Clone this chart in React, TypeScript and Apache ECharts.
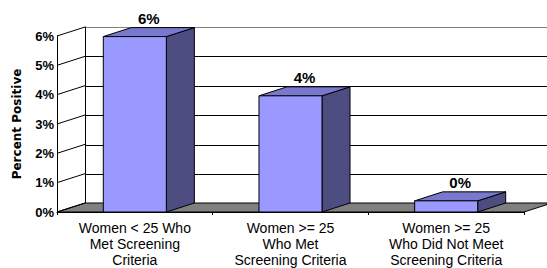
import React, { useEffect, useRef } from "react";
import * as echarts from "echarts";

const categories = [
  "Women < 25 Who\nMet Screening\nCriteria",
  "Women >= 25\nWho Met\nScreening Criteria",
  "Women >= 25\nWho Did Not Meet\nScreening Criteria",
];
const percentPositive = [5.98, 3.96, 0.38];
const yTicks = [0, 1, 2, 3, 4, 5, 6];

const DX = 28;
const DY = -9;
const FRONT = "#9999FF";
const TOP = "#7878CC";
const SIDE = "#4D4D82";
const FONT = "'Liberation Sans', Arial, sans-serif";

export default function App() {
  const ref = useRef<HTMLDivElement>(null);
  useEffect(() => {
    document.body.style.margin = "0";
    const chart = echarts.init(ref.current!, null, { renderer: "svg" });
    const option: any = {
      animation: false,
      backgroundColor: "#fff",
      grid: [
        { left: 57, top: 36, width: 467, height: 177 },
        { left: 57 + DX, top: 36 + DY, width: 467, height: 177 },
      ],
      xAxis: [
        {
          gridIndex: 0,
          type: "category",
          data: categories,
          axisLine: { show: true, lineStyle: { color: "#000", width: 1 } },
          axisTick: { show: true, length: 3, lineStyle: { color: "#000" } },
          axisLabel: {
            color: "#000",
            fontFamily: FONT,
            fontSize: 14,
            lineHeight: 16,
            margin: 8,
            interval: 0,
          },
          z: 5,
        },
        {
          gridIndex: 1,
          type: "category",
          data: categories,
          show: false,
        },
      ],
      yAxis: [
        {
          gridIndex: 0,
          type: "value",
          min: 0,
          max: 6,
          interval: 1,
          name: "Percent Positive",
          nameLocation: "middle",
          nameGap: 34,
          nameTextStyle: {
            fontFamily: "'DejaVu Sans', sans-serif",
            fontWeight: "bold",
            fontSize: 12,
            color: "#000",
          },
          axisLine: { show: true, lineStyle: { color: "#000", width: 1 } },
          axisTick: { show: false },
          splitLine: { show: false },
          axisLabel: {
            formatter: "{value}%",
            color: "#000",
            fontFamily: FONT,
            fontWeight: "bold",
            fontSize: 13,
            margin: 3,
          },
          z: 5,
        },
        {
          gridIndex: 1,
          type: "value",
          min: 0,
          max: 6,
          interval: 1,
          axisLine: { show: true, lineStyle: { color: "#000", width: 1 } },
          axisTick: { show: false },
          axisLabel: { show: false },
          splitLine: {
            show: true,
            lineStyle: {
              color: ["#000", "#000", "#000", "#000", "#000", "#000", "#808080"],
              width: 1,
            },
          },
        },
      ],
      series: [
        {
          type: "custom",
          xAxisIndex: 0,
          yAxisIndex: 0,
          z: 1,
          data: [[0, 0]],
          renderItem: (params: any, api: any) => {
            const cs = params.coordSys;
            const yb = cs.y + cs.height;
            return {
              type: "polygon",
              shape: {
                points: [
                  [cs.x, yb],
                  [cs.x + cs.width, yb],
                  [cs.x + cs.width + DX, yb + DY],
                  [cs.x + DX, yb + DY],
                ],
              },
              style: { fill: "#808080", stroke: "#000", lineWidth: 1 },
            };
          },
        },
        {
          type: "custom",
          xAxisIndex: 0,
          yAxisIndex: 0,
          z: 2,
          data: yTicks.map((v) => [0, v]),
          renderItem: (params: any, api: any) => {
            const cs = params.coordSys;
            const y = api.coord([0, api.value(1)])[1];
            return {
              type: "line",
              shape: { x1: cs.x, y1: y, x2: cs.x + DX, y2: y + DY },
              style: { stroke: "#000", lineWidth: 1 },
            };
          },
        },
        {
          type: "custom",
          xAxisIndex: 0,
          yAxisIndex: 0,
          z: 3,
          data: percentPositive.map((v, i) => [i, v]),
          renderItem: (params: any, api: any) => {
            const i = api.value(0);
            const v = api.value(1);
            const top = api.coord([i, v]);
            const base = api.coord([i, 0]);
            const bw = api.size([1, 0])[0] * 0.405;
            const x0 = top[0] - bw / 2;
            const x1 = top[0] + bw / 2;
            const y0 = base[1];
            const y1 = top[1];
            const st = { stroke: "#000", lineWidth: 1 };
            return {
              type: "group",
              children: [
                {
                  type: "polygon",
                  shape: {
                    points: [
                      [x1, y0],
                      [x1 + DX, y0 + DY],
                      [x1 + DX, y1 + DY],
                      [x1, y1],
                    ],
                  },
                  style: { fill: SIDE, ...st },
                },
                {
                  type: "polygon",
                  shape: {
                    points: [
                      [x0, y1],
                      [x1, y1],
                      [x1 + DX, y1 + DY],
                      [x0 + DX, y1 + DY],
                    ],
                  },
                  style: { fill: TOP, ...st },
                },
                {
                  type: "rect",
                  shape: { x: x0, y: y1, width: bw, height: y0 - y1 },
                  style: { fill: FRONT, ...st },
                },
                {
                  type: "text",
                  x: (x0 + x1) / 2 + DX / 2,
                  y: y1 + DY - 2,
                  style: {
                    text: Math.round(v) + "%",
                    fill: "#000",
                    fontFamily: FONT,
                    fontWeight: "bold",
                    fontSize: 15,
                    align: "center",
                    verticalAlign: "bottom",
                  },
                },
              ],
            };
          },
        },
      ],
    };
    chart.setOption(option);
    return () => chart.dispose();
  }, []);
  return <div ref={ref} style={{ width: 547, height: 268 }} />;
}
